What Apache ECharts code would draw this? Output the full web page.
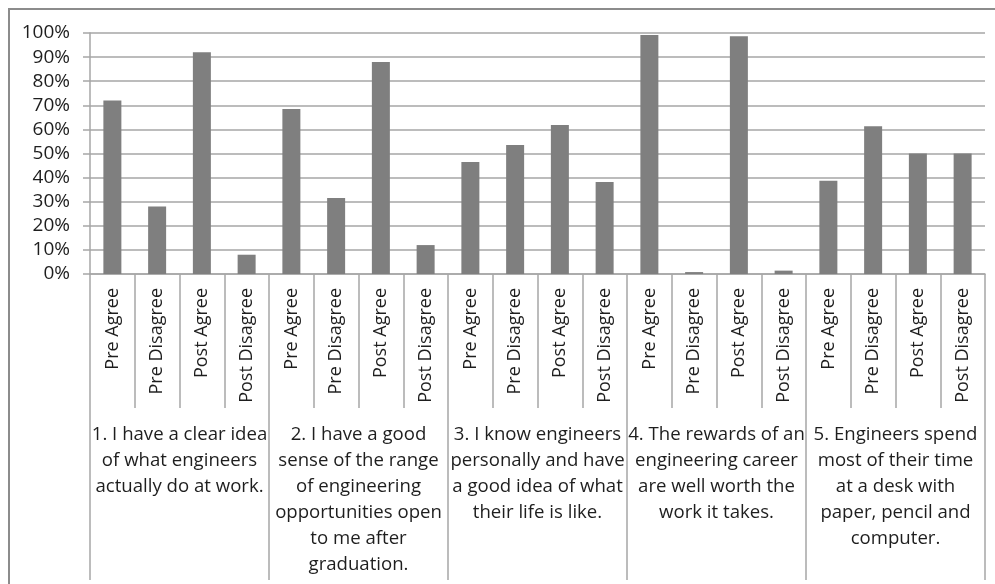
<!DOCTYPE html>
<html>
<head>
<meta charset="utf-8">
<style>
  html, body { margin: 0; padding: 0; background: #ffffff; }
  #chart { width: 995px; height: 584px; }
</style>
<script src="https://cdn.jsdelivr.net/npm/echarts@6/dist/echarts.min.js"></script>
</head>
<body>
<div id="chart"></div>
<script>
// Response categories repeated for each survey statement
const responses = [
  'Pre Agree', 'Pre Disagree', 'Post Agree', 'Post Disagree',
  'Pre Agree', 'Pre Disagree', 'Post Agree', 'Post Disagree',
  'Pre Agree', 'Pre Disagree', 'Post Agree', 'Post Disagree',
  'Pre Agree', 'Pre Disagree', 'Post Agree', 'Post Disagree',
  'Pre Agree', 'Pre Disagree', 'Post Agree', 'Post Disagree'
];

// Survey statements (group labels), with line breaks
const statements = [
  '1. I have a clear idea\nof what engineers\nactually do at work.',
  '2. I have a good\nsense of the range\nof engineering\nopportunities open\nto me after\ngraduation.',
  '3. I know engineers\npersonally and have\na good idea of what\ntheir life is like.',
  '4. The rewards of an\nengineering career\nare well worth the\nwork it takes.',
  '5. Engineers spend\nmost of their time\nat a desk with\npaper, pencil and\ncomputer.'
];

// Percentage of respondents for each response
const percentages = [
  72, 28, 92, 8,
  68.5, 31.5, 88, 12,
  46.5, 53.5, 61.8, 38.2,
  99.2, 0.8, 98.6, 1.4,
  38.7, 61.3, 50, 50
];

// Value axis tick labels
const yTicks = ['0%', '10%', '20%', '30%', '40%', '50%', '60%', '70%', '80%', '90%', '100%'];

const font = '"Open Sans", "Noto Sans", sans-serif';
const textColor = '#1e1e1e';
const lineColor = '#a6a6a6';

const chart = echarts.init(document.getElementById('chart'), null, { renderer: 'canvas' });

chart.setOption({
  animation: false,
  backgroundColor: '#ffffff',
  graphic: [{
    type: 'rect',
    shape: { x: 9, y: 9, width: 1000, height: 600 },
    style: { fill: 'none', stroke: '#8c8c8c', lineWidth: 2 },
    z: -1
  }],
  grid: { left: 90, right: 10, top: 33, bottom: 310, containLabel: false },
  xAxis: [
    {
      type: 'category',
      data: responses,
      position: 'bottom',
      axisLine: { show: true, lineStyle: { color: lineColor, width: 1.5 } },
      axisTick: { show: true, interval: 0, length: 134, lineStyle: { color: lineColor, width: 1.5 } },
      axisLabel: {
        interval: 0, rotate: 90, margin: 14,
        fontFamily: font, fontSize: 18, color: textColor
      },
      splitLine: { show: false }
    },
    {
      type: 'category',
      data: statements,
      position: 'bottom',
      axisLine: { show: false },
      axisTick: { show: true, interval: 0, length: 306, lineStyle: { color: lineColor, width: 1.5 } },
      axisLabel: {
        interval: 0, margin: 148,
        fontFamily: font, fontSize: 18.6, lineHeight: 26,
        color: textColor, align: 'center'
      },
      splitLine: { show: false }
    }
  ],
  yAxis: {
    type: 'value',
    min: 0, max: 100, interval: 10,
    axisLine: { show: true, lineStyle: { color: lineColor, width: 1.5 } },
    axisTick: { show: true, length: 7, lineStyle: { color: lineColor, width: 1.5 } },
    axisLabel: {
      margin: 20,
      fontFamily: font, fontSize: 19, color: textColor,
      formatter: function (v) { return yTicks[Math.round(v / 10)]; }
    },
    splitLine: { show: true, lineStyle: { color: lineColor, width: 1.5 } }
  },
  series: [{
    type: 'bar',
    xAxisIndex: 0,
    data: percentages,
    barWidth: 18,
    itemStyle: { color: '#7f7f7f' }
  }]
});
</script>
</body>
</html>
